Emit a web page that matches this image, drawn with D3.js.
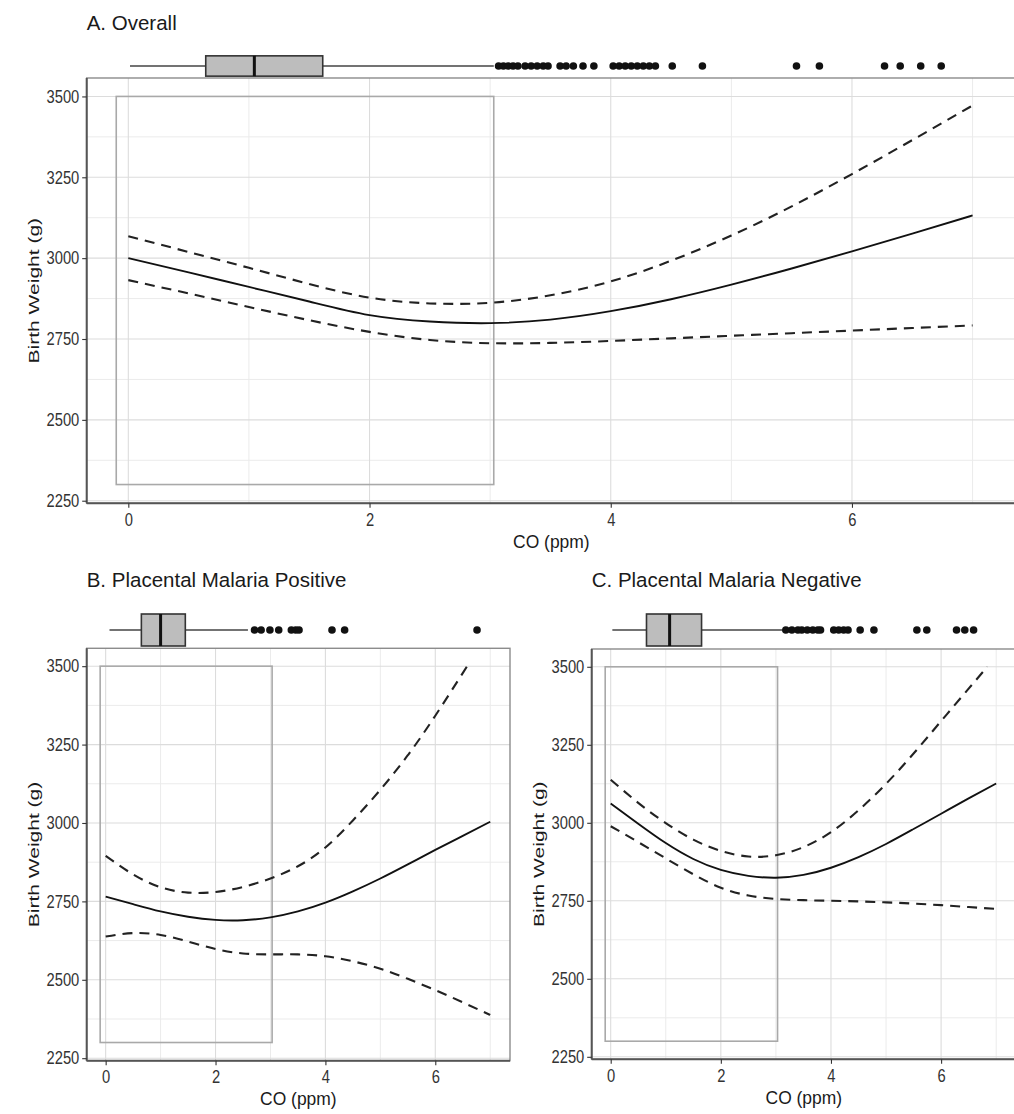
<!DOCTYPE html>
<html>
<head>
<meta charset="utf-8">
<script src="https://cdn.jsdelivr.net/npm/d3@7"></script>
<style>
body{margin:0;background:#fff}
svg{display:block;font-family:"Liberation Sans",Arial,Helvetica,sans-serif}
</style>
</head>
<body>
<svg id="chart" width="1014" height="1114"></svg>
<script>
// ---------- data ----------
const coGrid = [0,0.5,1,1.5,2,2.5,3,3.5,4,4.5,5,5.5,6,6.5,7];

// A. Overall
const fitA   = [3000,2956,2911,2866,2824,2804,2799,2810,2836,2873,2918,2968,3021,3076,3132];
const upperA = [3068,3019,2970,2920,2878,2860,2862,2885,2928,2992,3070,3160,3260,3365,3472];
const lowerA = [2932,2891,2849,2808,2772,2747,2737,2738,2744,2752,2760,2768,2776,2784,2792];

// B. Placental Malaria Positive
const fitB   = [2765,2741,2718,2701,2691,2690,2699,2718,2746,2782,2823,2868,2914,2959,3004];
const coUpperB = [0,0.5,1,1.5,2,2.5,3,3.5,4,4.5,5,5.5,6,6.5,6.58];
const upperB = [2895,2836,2795,2778,2780,2796,2823,2862,2922,3008,3106,3216,3342,3478,3500];
const lowerB = [2638,2649,2643,2622,2598,2584,2581,2581,2575,2559,2535,2503,2467,2428,2388];

// C. Placental Malaria Negative
const fitC   = [3062,2997,2935,2884,2849,2830,2824,2833,2856,2890,2932,2980,3029,3078,3126];
const coUpperC = [0,0.5,1,1.5,2,2.5,3,3.5,4,4.5,5,5.5,6,6.5,6.84];
const upperC = [3138,3064,2999,2946,2910,2892,2896,2922,2970,3040,3125,3222,3326,3430,3500];
const lowerC = [2989,2938,2886,2835,2792,2767,2756,2752,2750,2748,2745,2741,2736,2730,2724];

// marginal boxplots of CO: [lower whisker, Q1, median, Q3, upper whisker]
const boxA = [0.014,0.642,1.045,1.612,3.03];
const outA = [3.07,3.11,3.15,3.19,3.23,3.29,3.34,3.39,3.44,3.48,3.58,3.63,3.69,3.77,3.86,
              4.02,4.07,4.12,4.17,4.22,4.27,4.32,4.37,4.51,4.76,5.54,5.73,6.27,6.40,6.57,6.74];
const boxB = [0.07,0.65,1.0,1.45,2.59];
const outB = [2.71,2.83,2.99,3.15,3.38,3.46,3.52,4.12,4.35,6.76];
const boxC = [0.03,0.65,1.07,1.65,3.12];
const outC = [3.18,3.29,3.40,3.47,3.57,3.67,3.76,3.81,4.05,4.14,4.23,4.31,4.53,4.78,5.56,5.74,6.28,6.43,6.59];

// reference rectangle (CO range, birth weight range)
const rectCO = [-0.1,3.03];
const rectBW = [2300,3500];

// axes
const xTicks = [0,2,4,6];
const xMinor = [1,3,5,7];
const yTicks = [2250,2500,2750,3000,3250,3500];
const yMinor = [2375,2625,2875,3125,3375];
const xDomain = [-0.345,7.36];
const yDomain = [2242,3557];

const titles = ["A. Overall","B. Placental Malaria Positive","C. Placental Malaria Negative"];
const xTitle = "CO (ppm)";
const yTitle = "Birth Weight (g)";

// ---------- layout ----------
const panels = [
  {title:titles[0], L:86.7, R:1016, T:78,    B:503.3,  wy:66,  bh:20.3, ty:30,
   fit:fitA, up:upperA, upX:coGrid, lo:lowerA, box:boxA, out:outA},
  {title:titles[1], L:86.7, R:510,  T:648.3, B:1060.7, wy:630, bh:32,   ty:586.7,
   fit:fitB, up:upperB, upX:coUpperB, lo:lowerB, box:boxB, out:outB},
  {title:titles[2], L:591.7,R:1016, T:649,   B:1059.3, wy:630, bh:32,   ty:586.7,
   fit:fitC, up:upperC, upX:coUpperC, lo:lowerC, box:boxC, out:outC}
];

const svg = d3.select("#chart");
svg.append("rect").attr("width",1014).attr("height",1114).attr("fill","#fff");

panels.forEach(p => {
  const x = d3.scaleLinear().domain(xDomain).range([p.L,p.R]);
  const y = d3.scaleLinear().domain(yDomain).range([p.B,p.T]);
  const g = svg.append("g");

  // title
  g.append("text").attr("x",p.L).attr("y",p.ty)
    .attr("font-size","20.5px").attr("fill","#1a1a1a").text(p.title);

  // grid
  const grid = g.append("g");
  grid.selectAll(".gxm").data(xMinor).join("line")
    .attr("x1",d=>x(d)).attr("x2",d=>x(d)).attr("y1",p.T).attr("y2",p.B)
    .attr("stroke","#ebebeb").attr("stroke-width",1);
  grid.selectAll(".gym").data(yMinor).join("line")
    .attr("y1",d=>y(d)).attr("y2",d=>y(d)).attr("x1",p.L).attr("x2",p.R)
    .attr("stroke","#ebebeb").attr("stroke-width",1);
  grid.selectAll(".gx").data(xTicks).join("line")
    .attr("x1",d=>x(d)).attr("x2",d=>x(d)).attr("y1",p.T).attr("y2",p.B)
    .attr("stroke","#dcdcdc").attr("stroke-width",1.1);
  grid.selectAll(".gy").data(yTicks).join("line")
    .attr("y1",d=>y(d)).attr("y2",d=>y(d)).attr("x1",p.L).attr("x2",p.R)
    .attr("stroke","#dcdcdc").attr("stroke-width",1.1);

  // reference rectangle
  g.append("rect")
    .attr("x",x(rectCO[0])).attr("y",y(rectBW[1]))
    .attr("width",x(rectCO[1])-x(rectCO[0])).attr("height",y(rectBW[0])-y(rectBW[1]))
    .attr("fill","none").attr("stroke","#a9a9a9").attr("stroke-width",1.6);

  // curves
  const lineXY = (xs) => d3.line().x((d,i)=>x(xs[i])).y(d=>y(d)).curve(d3.curveNatural);
  g.append("path").datum(p.up).attr("d",lineXY(p.upX))
    .attr("fill","none").attr("stroke","#222").attr("stroke-width",2.1).attr("stroke-dasharray","10,7");
  g.append("path").datum(p.lo).attr("d",lineXY(coGrid))
    .attr("fill","none").attr("stroke","#222").attr("stroke-width",2.1).attr("stroke-dasharray","10,7");
  g.append("path").datum(p.fit).attr("d",lineXY(coGrid))
    .attr("fill","none").attr("stroke","#111").attr("stroke-width",1.9);

  // panel border and axis lines
  g.append("rect").attr("x",p.L).attr("y",p.T).attr("width",p.R-p.L).attr("height",p.B-p.T)
    .attr("fill","none").attr("stroke","#8c8c8c").attr("stroke-width",1.4);
  g.append("line").attr("x1",p.L).attr("x2",p.L).attr("y1",p.T).attr("y2",p.B)
    .attr("stroke","#555").attr("stroke-width",2);
  g.append("line").attr("x1",p.L).attr("x2",p.R).attr("y1",p.B).attr("y2",p.B)
    .attr("stroke","#555").attr("stroke-width",2);

  // axes
  const ya = g.append("g").attr("transform",`translate(${p.L},0)`)
    .call(d3.axisLeft(y).tickValues(yTicks).tickSize(4.5).tickPadding(4.5).tickFormat(d3.format("d")));
  const xa = g.append("g").attr("transform",`translate(0,${p.B})`)
    .call(d3.axisBottom(x).tickValues(xTicks).tickSize(4.5).tickPadding(5.5).tickFormat(d3.format("d")));
  [ya,xa].forEach(a=>{
    a.select(".domain").remove();
    a.selectAll(".tick line").attr("stroke","#333").attr("stroke-width",1.1);
    a.selectAll(".tick text").attr("fill","#333").attr("font-size","18px")
      .attr("font-family",'"Liberation Sans",Arial,sans-serif')
      .attr("transform","scale(0.82,1)");
  });

  // axis titles
  g.append("text").attr("x",(p.L+p.R)/2).attr("y",p.B+44.5)
    .attr("text-anchor","middle").attr("font-size","18px").attr("fill","#1a1a1a")
    .attr("transform",`translate(${(p.L+p.R)/2},0) scale(0.97,1) translate(${-(p.L+p.R)/2},0)`)
    .text(xTitle);
  const cy = (p.T+p.B)/2, bx = p.L-48.2;
  g.append("text").attr("text-anchor","middle").attr("font-size","21px").attr("fill","#1a1a1a")
    .attr("transform",`translate(${bx},${cy}) rotate(-90) scale(1,0.74)`)
    .text(yTitle);

  // marginal boxplot
  const bp = g.append("g");
  bp.append("line").attr("x1",x(p.box[0])).attr("x2",x(p.box[1])).attr("y1",p.wy).attr("y2",p.wy)
    .attr("stroke","#444").attr("stroke-width",1.6);
  bp.append("line").attr("x1",x(p.box[3])).attr("x2",x(p.box[4])).attr("y1",p.wy).attr("y2",p.wy)
    .attr("stroke","#444").attr("stroke-width",1.6);
  bp.append("rect").attr("x",x(p.box[1])).attr("y",p.wy-p.bh/2)
    .attr("width",x(p.box[3])-x(p.box[1])).attr("height",p.bh)
    .attr("fill","#bdbdbd").attr("stroke","#333").attr("stroke-width",1.6);
  bp.append("line").attr("x1",x(p.box[2])).attr("x2",x(p.box[2]))
    .attr("y1",p.wy-p.bh/2).attr("y2",p.wy+p.bh/2)
    .attr("stroke","#111").attr("stroke-width",3);
  bp.selectAll("circle").data(p.out).join("circle")
    .attr("cx",d=>x(d)).attr("cy",p.wy).attr("r",3.8).attr("fill","#111");
});
</script>
</body>
</html>
